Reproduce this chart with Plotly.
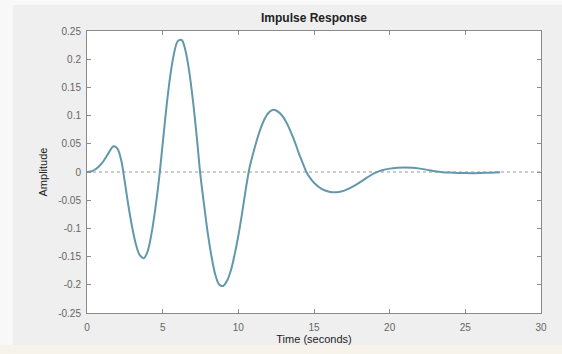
import plotly.graph_objects as go

# Impulse response samples
time_s = [0, 0.25, 0.5, 0.75, 1.0, 1.25, 1.5, 1.75, 2.0, 2.25,
          2.5, 2.75, 3.0, 3.25, 3.5, 3.75, 4.0, 4.25, 4.5, 4.75,
          5.0, 5.25, 5.5, 5.75, 6.0, 6.25, 6.5, 6.75, 7.0, 7.25,
          7.5, 7.75, 8.0, 8.25, 8.5, 8.75, 9.0, 9.25, 9.5, 9.75, 10.0, 10.25, 10.5,
          10.75, 11.0, 11.25, 11.5, 11.75, 12.0, 12.25, 12.5, 12.75, 13.0, 13.25, 13.5, 13.75, 14.0, 14.25,
          14.5, 14.75, 15.0, 15.5, 16.0, 16.5, 17.0, 17.5, 18.0, 18.5, 19.0,
          19.5, 20.0, 20.5, 21.0, 21.5, 22.0, 22.5, 23.0, 23.5,
          24.0, 24.5, 25.0, 25.5, 26.0, 26.5, 27.0, 27.3]
amplitude = [0, 0.001, 0.004, 0.009, 0.016, 0.026, 0.037, 0.0455, 0.042, 0.022,
             -0.018, -0.062, -0.100, -0.130, -0.148, -0.153, -0.141, -0.111, -0.068, -0.015,
             0.050, 0.115, 0.170, 0.210, 0.232, 0.234, 0.216, 0.179, 0.127, 0.063,
             -0.007, -0.061, -0.112, -0.153, -0.184, -0.200, -0.202, -0.193, -0.175, -0.147, -0.113, -0.073, -0.029,
             0.009, 0.035, 0.059, 0.079, 0.095, 0.105, 0.110, 0.109, 0.104, 0.096, 0.084, 0.069, 0.052, 0.033, 0.016,
             0.0, -0.011, -0.019, -0.030, -0.035, -0.036, -0.033, -0.027, -0.019, -0.010, -0.002,
             0.003, 0.006, 0.0075, 0.008, 0.0075, 0.006, 0.0038, 0.0012, -0.0004,
             -0.0011, -0.0016, -0.0019, -0.002, -0.0018, -0.0013, -0.0008, -0.0005]

x_ticks = [0, 5, 10, 15, 20, 25, 30]
y_ticks = [0.25, 0.2, 0.15, 0.1, 0.05, 0, -0.05, -0.1, -0.15, -0.2, -0.25]
y_tick_text = ["0.25", "0.2", "0.15", "0.1", "0.05", "0", "-0.05", "-0.1", "-0.15", "-0.2", "-0.25"]
zero_line_x = [0, 30]
zero_line_y = [0, 0]

fig = go.Figure()
fig.add_trace(go.Scatter(x=zero_line_x, y=zero_line_y, mode="lines",
                         line=dict(color="#9a9a9a", width=1, dash="dot"),
                         hoverinfo="skip", showlegend=False))
fig.add_trace(go.Scatter(x=time_s, y=amplitude, mode="lines",
                         line=dict(color="#6398ab", width=2, shape="spline", smoothing=1.0),
                         showlegend=False))

W, H = 562, 354
L, R, T, B = 87, 541, 31, 313
def px(x): return (x - L) / (R - L)
def py(y): return (B - y) / (B - T)

shapes = [
    dict(type="rect", xref="paper", yref="paper", x0=px(0), x1=px(13), y0=py(0), y1=py(354),
         fillcolor="#f8f8f8", line=dict(width=0), layer="below"),
    dict(type="rect", xref="paper", yref="paper", x0=px(0), x1=px(562), y0=py(0), y1=py(5),
         fillcolor="#f8f8f8", line=dict(width=0), layer="below"),
    dict(type="rect", xref="paper", yref="paper", x0=px(0), x1=px(562), y0=py(345), y1=py(354),
         fillcolor="#f7f2ea", line=dict(width=0), layer="below"),
]

font_fam = "Liberation Sans, Arial, sans-serif"
axis_common = dict(showgrid=False, zeroline=False, showline=True, linecolor="#8a8a8a", linewidth=1,
                   mirror="ticks", ticks="inside", ticklen=4, tickcolor="#8a8a8a", automargin=False,
                   tickfont=dict(family=font_fam, size=10, color="#666666"))

fig.update_layout(
    width=W, height=H,
    margin=dict(l=L, r=W - R, t=T, b=H - B, autoexpand=False),
    paper_bgcolor="#efefef", plot_bgcolor="#ffffff",
    title=dict(text="<b>Impulse Response</b>", x=0.5, xref="paper", y=1 - 18 / H, yanchor="middle",
               font=dict(family=font_fam, size=12, color="#222222")),
    xaxis=dict(range=[0, 30], tickvals=x_ticks, ticktext=[str(v) for v in x_ticks],
               ticklabelstandoff=5,
               title=dict(text="Time (seconds)", standoff=3,
                          font=dict(family=font_fam, size=11, color="#222222")),
               **axis_common),
    yaxis=dict(range=[-0.25, 0.25], tickvals=y_ticks, ticktext=y_tick_text,
               ticklabelstandoff=3,
               title=dict(text="Amplitude", standoff=8,
                          font=dict(family=font_fam, size=11, color="#222222")),
               **axis_common),
    shapes=shapes,
)

fig.write_html("out.html")
